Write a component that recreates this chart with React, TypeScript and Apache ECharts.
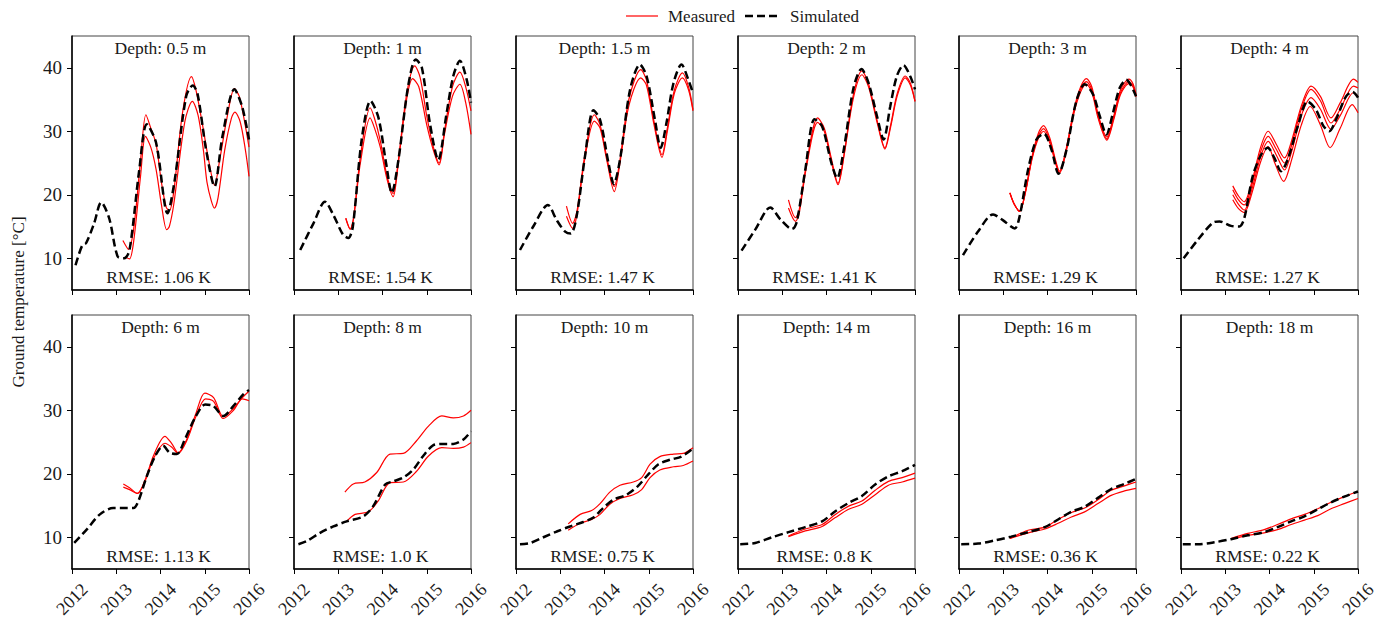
import React, { useEffect, useRef } from 'react';
import * as echarts from 'echarts';

const depths = ['0.5', '1', '1.5', '2', '3', '4', '6', '8', '10', '14', '16', '18'];
const rmse = ['1.06', '1.54', '1.47', '1.41', '1.29', '1.27', '1.13', '1.0', '0.75', '0.8', '0.36', '0.22'];
const yTicks = [10, 20, 30, 40];
const legendNames = ['Measured', 'Simulated'];

// ---- simulated series: [year, °C]
const sim05 = [[2012.08,8.9],[2012.23,12.0],[2012.32,12.4],[2012.5,15.5],[2012.66,18.8],[2012.84,16.3],[2013.03,10.3],[2013.18,10.0],[2013.3,11.3],[2013.52,23.9],[2013.69,31.1],[2013.9,28.2],[2014.16,17.1],[2014.31,21.8],[2014.58,35.5],[2014.73,37.2],[2014.84,35.8],[2015.03,27.1],[2015.22,21.3],[2015.4,29.2],[2015.67,36.6],[2015.84,34.0],[2016.0,28.7]];
const sim1 = [[2012.14,11.3],[2012.44,15.5],[2012.7,18.9],[2012.89,16.8],[2013.11,13.7],[2013.23,13.2],[2013.33,15.0],[2013.53,28.7],[2013.73,34.8],[2013.91,32.1],[2014.08,25.0],[2014.21,20.3],[2014.36,25.5],[2014.58,37.1],[2014.75,41.3],[2014.89,40.0],[2015.07,31.3],[2015.26,25.5],[2015.45,32.9],[2015.6,38.7],[2015.75,41.1],[2015.9,38.2],[2016.0,34.5]];
const sim15 = [[2012.09,11.3],[2012.39,15.0],[2012.72,18.4],[2012.92,16.0],[2013.11,14.2],[2013.24,13.9],[2013.37,16.6],[2013.56,26.1],[2013.75,33.3],[2013.9,31.8],[2014.09,25.0],[2014.21,21.7],[2014.35,25.5],[2014.58,36.6],[2014.8,40.5],[2014.95,38.7],[2015.14,31.8],[2015.27,27.4],[2015.4,31.3],[2015.56,37.6],[2015.74,40.5],[2015.89,38.2],[2016.0,36.0]];
const sim2 = [[2012.08,11.2],[2012.39,14.5],[2012.73,18.0],[2012.96,16.1],[2013.22,14.6],[2013.33,15.8],[2013.52,23.9],[2013.73,31.9],[2013.9,30.8],[2014.11,25.0],[2014.24,22.6],[2014.39,27.1],[2014.61,36.8],[2014.79,39.8],[2014.95,37.6],[2015.14,32.4],[2015.29,28.7],[2015.44,33.9],[2015.59,38.7],[2015.74,40.4],[2015.89,38.7],[2016.0,36.6]];
const sim3 = [[2012.09,10.5],[2012.43,14.2],[2012.77,16.9],[2012.99,16.0],[2013.26,14.7],[2013.37,16.6],[2013.56,23.9],[2013.75,28.7],[2013.92,29.6],[2014.09,27.1],[2014.25,23.3],[2014.43,27.1],[2014.65,34.7],[2014.84,37.4],[2015.03,35.8],[2015.18,32.4],[2015.33,29.5],[2015.48,32.9],[2015.63,36.8],[2015.78,38.1],[2016.0,35.5]];
const sim4 = [[2012.06,10.0],[2012.38,12.9],[2012.72,15.6],[2012.87,15.8],[2013.13,15.1],[2013.32,15.0],[2013.43,16.3],[2013.62,22.9],[2013.81,26.3],[2013.96,27.4],[2014.11,25.8],[2014.26,23.7],[2014.41,25.5],[2014.64,30.8],[2014.86,34.7],[2015.05,33.4],[2015.22,30.8],[2015.35,30.0],[2015.5,31.8],[2015.73,35.5],[2015.88,36.2],[2016.0,35.3]];
const sim6 = [[2012.05,9.1],[2012.33,11.2],[2012.63,13.6],[2012.93,14.6],[2013.2,14.6],[2013.39,14.6],[2013.5,15.7],[2013.69,19.6],[2013.88,22.8],[2014.06,24.4],[2014.21,23.3],[2014.37,23.1],[2014.55,25.4],[2014.78,28.8],[2015.01,30.9],[2015.19,30.7],[2015.42,29.1],[2015.65,30.7],[2015.87,32.5],[2016.0,33.2]];
const sim8 = [[2012.1,8.9],[2012.29,9.4],[2012.59,10.7],[2012.89,11.7],[2013.19,12.5],[2013.57,13.3],[2013.79,14.9],[2014.06,18.3],[2014.24,18.8],[2014.47,19.4],[2014.7,20.7],[2014.92,22.8],[2015.15,24.5],[2015.37,24.7],[2015.6,24.7],[2015.83,25.4],[2016.0,26.7]];
const sim10 = [[2012.09,8.9],[2012.32,9.1],[2012.62,10.0],[2012.92,10.9],[2013.22,11.7],[2013.52,12.4],[2013.75,13.1],[2013.97,14.6],[2014.2,15.9],[2014.5,16.7],[2014.76,18.1],[2014.99,19.9],[2015.22,21.5],[2015.48,22.2],[2015.74,22.7],[2016.0,24.0]];
const sim14 = [[2012.05,8.9],[2012.39,9.1],[2012.77,10.0],[2013.14,10.8],[2013.52,11.6],[2013.9,12.5],[2014.2,14.1],[2014.5,15.4],[2014.8,16.5],[2015.1,18.3],[2015.4,19.6],[2015.71,20.4],[2016.0,21.4]];
const sim16 = [[2012.05,8.9],[2012.43,9.0],[2012.81,9.5],[2013.18,10.1],[2013.56,10.8],[2013.94,11.6],[2014.24,12.8],[2014.54,14.0],[2014.84,14.8],[2015.14,16.2],[2015.44,17.6],[2015.74,18.4],[2016.0,19.2]];
const sim18 = [[2012.04,8.9],[2012.38,8.9],[2012.75,9.2],[2013.13,9.7],[2013.51,10.3],[2013.88,10.8],[2014.18,11.6],[2014.49,12.5],[2014.79,13.3],[2015.09,14.4],[2015.39,15.5],[2015.69,16.4],[2016.0,17.2]];

// ---- measured series: [year, °C]
const meas05a = [[2013.15,12.8],[2013.28,11.4],[2013.4,15.0],[2013.55,25.5],[2013.67,32.6],[2013.78,30.5],[2013.9,28.0],[2014.02,22.0],[2014.13,18.0],[2014.2,17.5],[2014.3,20.5],[2014.5,33.0],[2014.7,38.6],[2014.8,36.5],[2014.95,31.0],[2015.1,25.0],[2015.22,21.5],[2015.35,26.0],[2015.5,32.0],[2015.67,36.7],[2015.78,35.5],[2015.9,31.5],[2016.0,27.5]];
const meas05b = [[2013.2,10.2],[2013.3,9.9],[2013.4,13.0],[2013.55,23.0],[2013.66,29.2],[2013.78,27.5],[2013.9,24.0],[2014.02,18.5],[2014.14,14.5],[2014.2,15.0],[2014.3,18.5],[2014.55,31.5],[2014.72,34.7],[2014.85,32.5],[2014.97,27.0],[2015.05,22.0],[2015.15,19.0],[2015.22,17.9],[2015.3,19.5],[2015.45,27.0],[2015.6,32.0],[2015.68,33.0],[2015.8,31.5],[2015.92,27.0],[2016.0,22.9]];
const meas1a = [[2013.17,16.3],[2013.27,14.6],[2013.35,16.5],[2013.5,26.0],[2013.72,33.7],[2013.82,32.0],[2013.95,28.5],[2014.1,23.0],[2014.24,20.2],[2014.35,25.0],[2014.55,36.0],[2014.73,40.3],[2014.85,38.5],[2015.0,32.4],[2015.15,27.5],[2015.28,25.0],[2015.4,30.0],[2015.58,37.0],[2015.75,39.3],[2015.88,37.0],[2016.0,33.2]];
const meas1b = [[2013.17,16.3],[2013.27,14.6],[2013.35,16.5],[2013.5,25.0],[2013.72,32.1],[2013.82,30.5],[2013.95,27.5],[2014.1,22.5],[2014.24,19.7],[2014.35,24.5],[2014.52,34.0],[2014.68,38.3],[2014.82,37.0],[2015.0,31.0],[2015.15,27.0],[2015.28,24.7],[2015.4,29.5],[2015.58,35.5],[2015.75,37.4],[2015.88,34.5],[2016.0,29.5]];
const meas15a = [[2013.14,18.2],[2013.28,15.5],[2013.38,17.5],[2013.55,26.0],[2013.77,32.6],[2013.9,31.0],[2014.05,26.0],[2014.22,21.3],[2014.35,25.5],[2014.55,35.0],[2014.82,39.7],[2014.95,38.0],[2015.12,31.5],[2015.3,26.3],[2015.42,30.5],[2015.58,36.5],[2015.76,39.2],[2015.9,37.0],[2016.0,33.4]];
const meas15b = [[2013.14,16.6],[2013.28,14.7],[2013.38,17.0],[2013.55,25.5],[2013.77,31.6],[2013.9,30.5],[2014.05,25.5],[2014.22,20.5],[2014.35,25.0],[2014.55,34.0],[2014.82,38.4],[2014.95,37.2],[2015.12,31.0],[2015.3,25.9],[2015.42,30.0],[2015.58,36.0],[2015.76,38.4],[2015.9,36.5],[2016.0,33.2]];
const meas2a = [[2013.14,19.2],[2013.3,16.4],[2013.38,17.5],[2013.55,25.0],[2013.8,32.1],[2013.95,30.5],[2014.1,26.0],[2014.26,21.8],[2014.4,26.5],[2014.6,35.5],[2014.8,39.5],[2014.95,37.5],[2015.15,31.5],[2015.32,27.4],[2015.45,31.0],[2015.6,36.0],[2015.78,38.7],[2015.9,37.5],[2016.0,34.7]];
const meas2b = [[2013.14,17.9],[2013.3,15.8],[2013.38,17.0],[2013.55,24.5],[2013.8,31.4],[2013.95,30.0],[2014.1,25.5],[2014.26,21.6],[2014.4,26.3],[2014.6,35.0],[2014.8,38.9],[2014.95,37.0],[2015.15,31.2],[2015.32,27.2],[2015.45,30.7],[2015.6,35.6],[2015.78,38.4],[2015.9,37.2],[2016.0,34.7]];
const meas3a = [[2013.15,20.3],[2013.25,18.5],[2013.37,17.4],[2013.5,20.5],[2013.65,26.0],[2013.8,29.8],[2013.91,30.9],[2014.05,29.0],[2014.18,25.5],[2014.27,23.7],[2014.4,26.5],[2014.6,33.5],[2014.75,37.0],[2014.88,38.3],[2015.0,37.0],[2015.15,32.5],[2015.34,29.1],[2015.5,32.5],[2015.65,36.5],[2015.84,38.2],[2015.93,37.5],[2016.0,35.8]];
const meas3b = [[2013.15,20.3],[2013.25,18.5],[2013.37,17.4],[2013.5,20.4],[2013.65,25.8],[2013.8,29.4],[2013.91,30.4],[2014.05,28.6],[2014.18,25.2],[2014.27,23.5],[2014.4,26.3],[2014.6,33.2],[2014.75,36.6],[2014.88,37.8],[2015.0,36.6],[2015.15,32.2],[2015.34,28.8],[2015.5,32.2],[2015.65,36.1],[2015.84,37.8],[2015.93,37.2],[2016.0,35.6]];
const meas3c = [[2013.15,20.3],[2013.25,18.5],[2013.37,17.4],[2013.5,20.3],[2013.65,25.6],[2013.8,29.0],[2013.91,30.0],[2014.05,28.2],[2014.18,25.0],[2014.27,23.4],[2014.4,26.1],[2014.6,32.9],[2014.75,36.2],[2014.88,37.4],[2015.0,36.2],[2015.15,31.9],[2015.34,28.6],[2015.5,31.9],[2015.65,35.8],[2015.84,37.5],[2015.93,37.0],[2016.0,35.4]];
const meas4a = [[2013.17,21.4],[2013.3,19.8],[2013.43,18.9],[2013.6,22.0],[2013.8,27.5],[2013.97,30.0],[2014.15,28.0],[2014.34,25.8],[2014.5,28.5],[2014.72,34.0],[2014.94,37.1],[2015.15,35.5],[2015.39,32.1],[2015.6,34.5],[2015.9,38.2],[2016.0,37.7]];
const meas4b = [[2013.17,20.8],[2013.3,19.2],[2013.43,18.4],[2013.6,21.5],[2013.8,26.8],[2013.97,29.2],[2014.15,27.2],[2014.34,25.0],[2014.5,27.8],[2014.72,33.5],[2014.94,36.6],[2015.15,34.8],[2015.39,31.3],[2015.6,33.5],[2015.9,37.1],[2016.0,36.8]];
const meas4c = [[2013.17,20.0],[2013.3,18.5],[2013.43,17.6],[2013.6,20.8],[2013.8,26.0],[2013.97,28.4],[2014.15,26.3],[2014.34,23.9],[2014.5,26.8],[2014.72,32.5],[2014.94,35.3],[2015.15,33.5],[2015.39,30.3],[2015.6,32.5],[2015.9,36.1],[2016.0,35.5]];
const meas4d = [[2013.17,19.2],[2013.3,17.8],[2013.43,17.2],[2013.6,20.2],[2013.8,25.2],[2013.97,27.6],[2014.12,25.0],[2014.32,22.1],[2014.5,25.5],[2014.72,31.0],[2014.92,33.9],[2015.15,31.0],[2015.37,27.4],[2015.6,30.5],[2015.87,34.2],[2016.0,32.9]];
const meas6a = [[2013.16,18.4],[2013.3,17.8],[2013.48,16.9],[2013.65,19.0],[2013.85,23.0],[2014.1,25.9],[2014.25,24.8],[2014.4,23.3],[2014.6,25.5],[2014.8,29.5],[2015.0,32.7],[2015.2,32.0],[2015.42,29.0],[2015.65,30.3],[2015.85,32.0],[2016.0,33.0]];
const meas6b = [[2013.16,17.9],[2013.3,17.5],[2013.48,16.9],[2013.65,18.8],[2013.85,22.5],[2014.1,24.8],[2014.25,24.2],[2014.4,23.2],[2014.6,25.3],[2014.8,29.0],[2015.02,31.8],[2015.2,31.4],[2015.42,28.7],[2015.65,30.0],[2015.85,31.8],[2016.0,31.5]];
const meas8a = [[2013.15,17.1],[2013.34,18.4],[2013.6,18.7],[2013.87,20.2],[2014.17,23.1],[2014.47,23.2],[2014.77,25.2],[2015.04,27.5],[2015.34,29.1],[2015.6,28.8],[2015.83,29.1],[2016.0,30.0]];
const meas8b = [[2013.19,12.5],[2013.38,13.6],[2013.68,14.0],[2013.9,15.7],[2014.17,18.6],[2014.47,18.7],[2014.77,20.4],[2015.04,22.8],[2015.34,24.1],[2015.6,24.0],[2015.83,24.2],[2016.0,24.9]];
const meas10a = [[2013.18,12.1],[2013.45,13.6],[2013.71,14.2],[2013.9,15.3],[2014.12,17.1],[2014.35,18.2],[2014.65,18.7],[2014.84,19.4],[2015.03,21.5],[2015.25,22.7],[2015.56,23.1],[2015.78,23.2],[2016.0,24.1]];
const meas10b = [[2013.18,11.1],[2013.45,12.2],[2013.71,12.8],[2013.9,13.6],[2014.12,15.2],[2014.35,16.1],[2014.65,16.7],[2014.84,17.5],[2015.03,19.4],[2015.25,20.6],[2015.56,21.1],[2015.78,21.3],[2016.0,22.0]];
const meas14a = [[2013.14,10.2],[2013.52,11.3],[2013.9,12.0],[2014.2,13.6],[2014.5,14.9],[2014.8,15.7],[2015.1,17.4],[2015.4,18.8],[2015.71,19.4],[2016.0,20.1]];
const meas14b = [[2013.14,10.1],[2013.52,11.0],[2013.9,11.7],[2014.2,13.1],[2014.5,14.4],[2014.8,15.2],[2015.1,16.7],[2015.4,18.2],[2015.71,18.7],[2016.0,19.3]];
const meas16a = [[2013.15,9.8],[2013.56,11.1],[2013.94,11.6],[2014.24,12.8],[2014.54,13.9],[2014.84,14.6],[2015.14,15.9],[2015.44,17.4],[2015.74,18.1],[2016.0,18.7]];
const meas16b = [[2013.15,9.8],[2013.56,10.7],[2013.94,11.3],[2014.24,12.2],[2014.54,13.2],[2014.84,14.0],[2015.14,15.3],[2015.44,16.6],[2015.74,17.3],[2016.0,17.7]];
const meas18a = [[2013.13,9.8],[2013.51,10.6],[2013.88,11.2],[2014.18,12.0],[2014.49,12.9],[2014.79,13.6],[2015.09,14.5],[2015.39,15.5],[2015.69,16.4],[2016.0,17.2]];
const meas18b = [[2013.13,9.7],[2013.51,10.3],[2013.88,10.7],[2014.18,11.2],[2014.49,12.0],[2014.79,12.7],[2015.09,13.4],[2015.39,14.5],[2015.69,15.3],[2016.0,16.1]];

const panels = [
  { sim: sim05, meas: [meas05a, meas05b] },
  { sim: sim1, meas: [meas1a, meas1b] },
  { sim: sim15, meas: [meas15a, meas15b] },
  { sim: sim2, meas: [meas2a, meas2b] },
  { sim: sim3, meas: [meas3a, meas3b, meas3c] },
  { sim: sim4, meas: [meas4a, meas4b, meas4c, meas4d] },
  { sim: sim6, meas: [meas6a, meas6b] },
  { sim: sim8, meas: [meas8a, meas8b] },
  { sim: sim10, meas: [meas10a, meas10b] },
  { sim: sim14, meas: [meas14a, meas14b] },
  { sim: sim16, meas: [meas16a, meas16b] },
  { sim: sim18, meas: [meas18a, meas18b] },
];

export default function App() {
  const ref = useRef<HTMLDivElement>(null);
  useEffect(() => {
    const chart = echarts.init(ref.current as HTMLDivElement, null, { renderer: 'svg' });
    const FONT = 'Liberation Serif';
    const colLefts = [72, 294, 516, 738, 959, 1181];
    const rowTops = [36, 315];
    const W = 177;
    const H = 254;
    const grid: any[] = [];
    const xAxis: any[] = [];
    const yAxis: any[] = [];
    const series: any[] = [];
    const graphic: any[] = [];
    const txt = (text: string, x: number, y: number, size: number, align = 'center', extra: any = {}) => ({
      type: 'text', x, y, z: 10, ...extra,
      style: { text, textAlign: align, align, textVerticalAlign: 'middle', verticalAlign: 'middle', fontFamily: FONT, fontSize: size, fill: '#1a1a1a' },
    });
    panels.forEach((p, i) => {
      const r = Math.floor(i / 6);
      const c = i % 6;
      const left = colLefts[c];
      const top = rowTops[r];
      grid.push({ left, top, width: W, height: H, show: true, borderColor: '#444', borderWidth: 1, backgroundColor: 'transparent' });
      xAxis.push({
        type: 'value', gridIndex: i, min: 2012, max: 2016, interval: 1,
        axisLine: { show: true, onZero: false, lineStyle: { color: '#000', width: 1.5 } },
        axisTick: { show: true, length: 5, lineStyle: { color: '#000', width: 1 } },
        axisLabel: { show: r === 1, rotate: 45, margin: 30, align: 'center', verticalAlign: 'middle', fontFamily: FONT, fontSize: 18, color: '#1a1a1a', formatter: (v: number) => String(v) },
        splitLine: { show: false },
      });
      yAxis.push({
        type: 'value', gridIndex: i, min: 5, max: 45,
        axisLine: { show: true, onZero: false, lineStyle: { color: '#000', width: 1.5 } },
        axisTick: { show: true, length: 5, customValues: yTicks, lineStyle: { color: '#000', width: 1 } },
        axisLabel: { show: c === 0, customValues: yTicks, margin: 10, fontFamily: FONT, fontSize: 19, color: '#1a1a1a' },
        splitLine: { show: false },
      });
      p.meas.forEach((m) => {
        series.push({
          type: 'line', name: legendNames[0], xAxisIndex: i, yAxisIndex: i, data: m,
          symbol: 'none', showSymbol: false, smooth: 0.3, z: 2,
          lineStyle: { color: '#ff0000', width: 1.2 }, itemStyle: { color: '#ff0000' },
        });
      });
      series.push({
        type: 'line', name: legendNames[1], xAxisIndex: i, yAxisIndex: i, data: p.sim,
        symbol: 'none', showSymbol: false, smooth: 0.3, z: 3,
        lineStyle: { color: '#000', width: 2.5, type: [8, 4] }, itemStyle: { color: '#000' },
      });
      graphic.push(txt('Depth: ' + depths[i] + ' m', left + W / 2, top + 12, 17.5));
      graphic.push(txt('RMSE: ' + rmse[i] + ' K', left + W / 2 - 2, top + H - 13, 17.5));
    });
    graphic.push(txt('Ground temperature [°C]', 18, 302, 17, 'center', { rotation: Math.PI / 2 }));
    // legend drawn by hand (line samples without markers)
    graphic.push({ type: 'line', shape: { x1: 626, y1: 16, x2: 658, y2: 16 }, style: { stroke: '#ff0000', lineWidth: 1.2 } });
    graphic.push(txt(legendNames[0], 668, 16, 17, 'left'));
    graphic.push({ type: 'line', shape: { x1: 745, y1: 16, x2: 781, y2: 16 }, style: { stroke: '#000', lineWidth: 2.5, lineDash: [8, 4] } });
    graphic.push(txt(legendNames[1], 790, 16, 17, 'left'));
    chart.setOption({
      animation: false,
      backgroundColor: '#fff',
      grid, xAxis, yAxis, series, graphic,
    });
    return () => chart.dispose();
  }, []);
  return <div ref={ref} style={{ position: 'fixed', left: 0, top: 0, width: 1388, height: 621 }} />;
}
